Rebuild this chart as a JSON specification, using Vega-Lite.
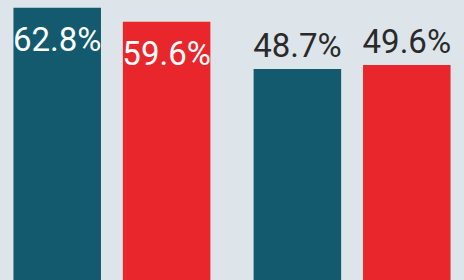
{
  "$schema": "https://vega.github.io/schema/vega-lite/v6.json",
  "width": 464,
  "height": 280,
  "padding": 0,
  "autosize": {"type": "none"},
  "background": "#dde5ea",
  "config": {"view": {"stroke": null}},
  "data": {
    "values": [
      {"group": "A", "party": "1", "value": 62.8, "label": "62.8%"},
      {"group": "A", "party": "2", "value": 59.6, "label": "59.6%"},
      {"group": "B", "party": "1", "value": 48.7, "label": "48.7%"},
      {"group": "B", "party": "2", "value": 49.6, "label": "49.6%"}
    ]
  },
  "encoding": {
    "x": {"field": "group", "type": "nominal", "axis": null,
          "scale": {"paddingInner": 0.18, "paddingOuter": 0.056}},
    "xOffset": {"field": "party", "type": "nominal",
                "scale": {"paddingInner": 0.2, "paddingOuter": 0}},
    "y": {"field": "value", "type": "quantitative", "axis": null,
          "scale": {"domain": [0, 64.6], "nice": false}}
  },
  "layer": [
    {
      "mark": {"type": "bar"},
      "encoding": {
        "color": {"field": "party", "type": "nominal", "legend": null,
                  "scale": {"domain": ["1", "2"], "range": ["#135a6e", "#e9262b"]}}
      }
    },
    {
      "transform": [{"filter": "datum.group == 'A'"}],
      "mark": {"type": "text", "font": "Roboto", "fontSize": 33, "color": "#ffffff",
               "baseline": "alphabetic", "dy": 43},
      "encoding": {"text": {"field": "label"}}
    },
    {
      "transform": [{"filter": "datum.group == 'B'"}],
      "mark": {"type": "text", "font": "Roboto", "fontSize": 33, "color": "#2a2a2a",
               "baseline": "alphabetic", "dy": -12},
      "encoding": {"text": {"field": "label"}}
    }
  ]
}
